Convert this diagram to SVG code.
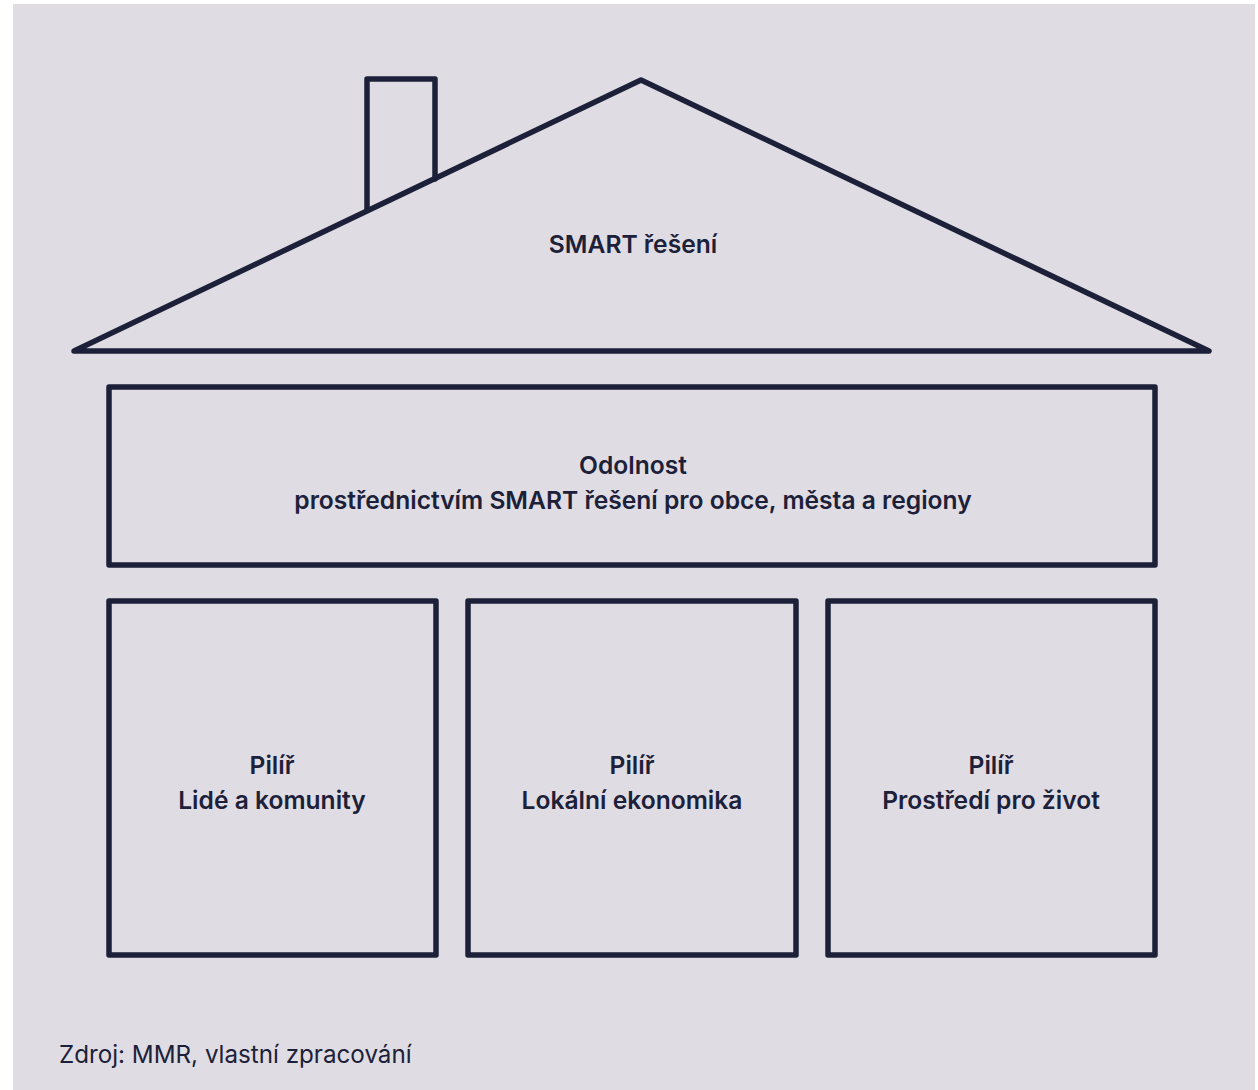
<svg xmlns="http://www.w3.org/2000/svg" width="1258" height="1090" viewBox="0 0 1258 1090">
<style>
.s{fill:none;stroke:#1c2139;stroke-width:5.5;stroke-linejoin:round;stroke-linecap:round}
.t{font-family:Inter,"Noto Sans",sans-serif;font-weight:600;font-size:24.6px;fill:#1c2139;text-anchor:middle}
.f{font-family:Inter,"Noto Sans",sans-serif;font-weight:400;font-size:24.2px;fill:#1c2139}
</style>
<rect x="0" y="0" width="1258" height="1090" fill="#ffffff"/>
<rect x="13" y="4" width="1242" height="1086" fill="#dfdce3"/>
<g id="roof">
<polyline class="s" points="367,209 367,79 435,79 435,179"/>
<polygon class="s" points="74,351 641,80 1209,351"/>
<text class="t" x="633" y="253">SMART řešení</text>
</g>
<g id="odolnost">
<rect class="s" x="109" y="387" width="1046" height="178"/>
<text class="t" x="633" y="474">Odolnost</text>
<text class="t" x="633" y="509">prostřednictvím SMART řešení pro obce, města a regiony</text>
</g>
<g id="pilir1">
<rect class="s" x="109" y="601" width="327" height="354"/>
<text class="t" x="272" y="774">Pilíř</text>
<text class="t" x="272" y="809">Lidé a komunity</text>
</g>
<g id="pilir2">
<rect class="s" x="468" y="601" width="328" height="354"/>
<text class="t" x="632" y="774">Pilíř</text>
<text class="t" x="632" y="809">Lokální ekonomika</text>
</g>
<g id="pilir3">
<rect class="s" x="828" y="601" width="327" height="354"/>
<text class="t" x="991" y="774">Pilíř</text>
<text class="t" x="991" y="809">Prostředí pro život</text>
</g>
<g id="connectors"></g>
<text class="f" x="59" y="1063">Zdroj: MMR, vlastní zpracování</text>
</svg>
